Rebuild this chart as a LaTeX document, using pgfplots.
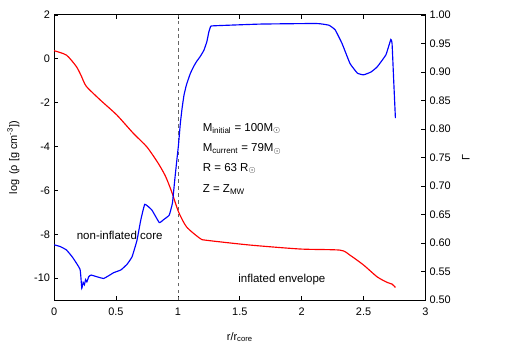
\documentclass[border=0pt]{standalone}
\usepackage{fontspec}
\setmainfont{Liberation Sans}
\usepackage{pgfplots}
\pgfplotsset{compat=1.18}

\pgfplotsset{
  every axis/.append style={
    scale only axis,
    width=323pt, height=248pt,
    xmin=0, xmax=3,
    tick align=inside,
    major tick length=3.5pt,
    tick style={black, line width=0.6pt},
    axis line style={line width=0.8pt},
    /pgf/number format/assume math mode=true,
    tick label style={font=\fontsize{9.5}{11}\selectfont},
    label style={font=\fontsize{9.5}{11}\selectfont},
  }
}

\begin{document}
\begin{tikzpicture}
\useasboundingbox (-47pt,-47pt) rectangle (393pt,261pt);

% density, left axis
\begin{axis}[
  ymin=-11, ymax=2,
  ytick={-10,-8,-6,-4,-2,0,2},
  xtick={0,0.5,1,1.5,2,2.5,3},
  ytick pos=left,
  xticklabel style={yshift=-3pt},
  xlabel={r/r\textsubscript{core}},
  xlabel style={yshift=-8pt},
  ylabel={log\, (ρ [g cm\textsuperscript{-3}])},
  ylabel style={yshift=6pt},
  clip=false,
]
\addplot[gray!80!black, dashed, line width=0.6pt] coordinates {(1,-11) (1,2)};
\addplot[red, line width=1pt, smooth, tension=0.4] coordinates {
  (0,0.37) (0.10,0.17) (0.18,-0.35) (0.22,-0.78) (0.26,-1.25)
  (0.374,-1.88) (0.507,-2.56) (0.641,-3.40) (0.749,-4.01) (0.84,-4.75)
  (0.90,-5.35) (0.95,-6.06) (1.005,-6.97) (1.07,-7.66) (1.18,-8.19)
  (1.23,-8.27) (1.585,-8.49) (1.99,-8.67) (2.31,-8.72) (2.39,-8.95)
  (2.50,-9.40) (2.61,-9.94) (2.69,-10.19) (2.73,-10.27) (2.757,-10.42)
};
\node[anchor=west, inner sep=0pt] at (axis cs:1.20,-3.18) {M\textsubscript{initial} = 100M$_\odot$};
\node[anchor=west, inner sep=0pt] at (axis cs:1.20,-4.10) {M\textsubscript{current} = 79M$_\odot$};
\node[anchor=west, inner sep=0pt] at (axis cs:1.20,-5.00) {R = 63 R$_\odot$};
\node[anchor=west, inner sep=0pt] at (axis cs:1.20,-5.95) {Z = Z\textsubscript{MW}};
\node[inner sep=0pt] at (axis cs:0.53,-8.04) {non-inflated core};
\node[inner sep=0pt] at (axis cs:1.84,-10.04) {inflated envelope};
\end{axis}

% Eddington factor, right axis
\begin{axis}[
  ymin=0.5, ymax=1.0,
  ytick={0.5,0.55,0.6,0.65,0.7,0.75,0.8,0.85,0.9,0.95,1.0},
  axis x line=none,
  axis y line*=right,
  yticklabel style={/pgf/number format/.cd, fixed, fixed zerofill, precision=2},
  ylabel={Γ},
  ylabel style={yshift=-3pt},
]
\addplot[blue, line width=1pt, smooth, tension=0.2] coordinates {
  (0,0.597) (0.05,0.594) (0.10,0.588) (0.15,0.575) (0.21,0.554)
  (0.224,0.521) (0.235,0.531) (0.245,0.527) (0.255,0.536) (0.265,0.532)
  (0.28,0.541) (0.30,0.544) (0.40,0.538) (0.48,0.548) (0.54,0.553)
  (0.59,0.563) (0.63,0.576) (0.67,0.605) (0.700,0.640) (0.733,0.668)
  (0.79,0.658) (0.85,0.636) (0.884,0.641) (0.93,0.649) (0.956,0.670)
  (0.975,0.711) (0.99,0.742) (1.005,0.772) (1.02,0.810) (1.035,0.838)
  (1.05,0.860) (1.07,0.878) (1.10,0.897) (1.126,0.909) (1.15,0.918)
  (1.18,0.927) (1.21,0.938) (1.234,0.953) (1.25,0.970) (1.265,0.980)
  (1.29,0.981) (1.665,0.984) (2.12,0.985) (2.22,0.982) (2.27,0.974)
  (2.326,0.950) (2.39,0.915) (2.45,0.898) (2.50,0.895) (2.56,0.900)
  (2.61,0.909) (2.68,0.930) (2.72,0.957) (2.73,0.950) (2.743,0.886)
  (2.757,0.819)
};
\end{axis}
\end{tikzpicture}
\end{document}
